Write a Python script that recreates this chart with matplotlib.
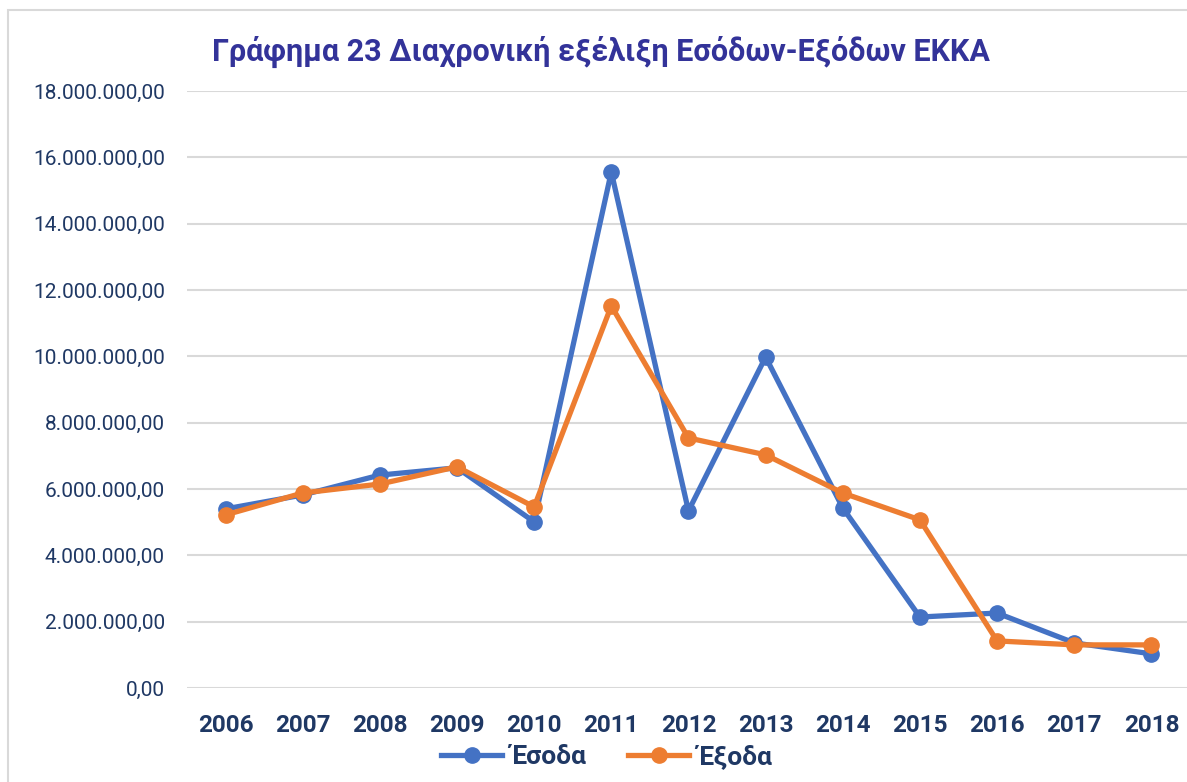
import numpy as np
import matplotlib.pyplot as plt
from matplotlib.ticker import FuncFormatter
from matplotlib.patches import Rectangle

# data
years = ['2006', '2007', '2008', '2009', '2010', '2011', '2012',
         '2013', '2014', '2015', '2016', '2017', '2018']
esoda = [5.40e6, 5.82e6, 6.42e6, 6.64e6, 5.01e6, 15.56e6, 5.34e6,
         9.98e6, 5.43e6, 2.14e6, 2.26e6, 1.36e6, 1.03e6]
exoda = [5.22e6, 5.88e6, 6.15e6, 6.67e6, 5.46e6, 11.52e6, 7.54e6,
         7.03e6, 5.88e6, 5.07e6, 1.42e6, 1.30e6, 1.30e6]

title = 'Γράφημα 23 Διαχρονική εξέλιξη Εσόδων-Εξόδων ΕΚΚΑ'
fam = ['Roboto', 'DejaVu Sans']
navy = '#1F3864'

plt.rcParams['font.family'] = fam

fig = plt.figure(figsize=(11.87, 7.82), dpi=100)
ax = fig.add_axes([0.1575, 0.1202, 0.845, 0.7634])

x = np.arange(len(years))
ax.plot(x, esoda, color='#4472C4', lw=3.8, marker='o', ms=11, label='Έσοδα', zorder=3)
ax.plot(x, exoda, color='#ED7D31', lw=3.8, marker='o', ms=11, label='Έξοδα', zorder=4)

ax.set_xlim(-0.5, 12.5)
ax.set_ylim(0, 18e6)
ax.set_yticks(np.arange(0, 18.1e6, 2e6))
ax.set_xticks(x)
ax.set_xticklabels(years)

def gr_fmt(v, pos):
    s = f'{v:,.2f}'
    return s.replace(',', 'X').replace('.', ',').replace('X', '.')

ax.yaxis.set_major_formatter(FuncFormatter(gr_fmt))
ax.grid(axis='y', color='#D9D9D9', lw=1.5)
ax.set_axisbelow(True)
for s in ax.spines.values():
    s.set_visible(False)
ax.tick_params(axis='y', length=0, pad=16, labelsize=15, labelcolor=navy)
ax.tick_params(axis='x', length=0, pad=19, labelsize=17.5, labelcolor=navy)
for t in ax.get_xticklabels():
    t.set_fontweight('bold')

fig.text(0.506, 0.934, title, ha='center', va='center', fontsize=22,
         fontweight='bold', color='#333399')

leg = fig.legend(loc='lower center', bbox_to_anchor=(0.511, -0.014), ncol=2,
                 frameon=False, fontsize=19, handlelength=2.3, columnspacing=1.6,
                 handletextpad=0.3)
for t in leg.get_texts():
    t.set_color(navy)
    t.set_fontweight('bold')

# outer chart border
fig.patches.append(Rectangle((0.007, -0.05), 1.1, 1.037, transform=fig.transFigure,
                             fill=False, ec='#D9D9D9', lw=1.5))

fig.savefig('out.png', dpi=100)
